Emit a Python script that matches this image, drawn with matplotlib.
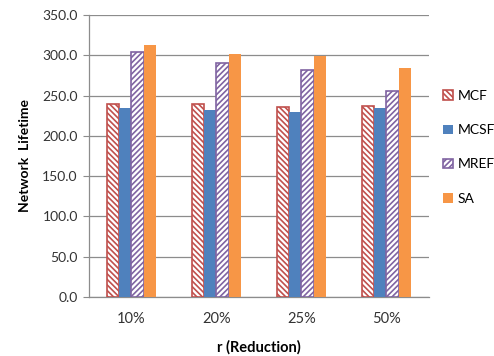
import numpy as np
import matplotlib
matplotlib.use("Agg")
import matplotlib.pyplot as plt

# network lifetime per reduction ratio
reduction = ["10%", "20%", "25%", "50%"]
mcf = [240.0, 240.0, 236.0, 237.5]
mcsf = [234.0, 232.0, 229.5, 235.0]
mref = [304.0, 290.0, 282.0, 255.0]
sa = [312.5, 301.5, 299.5, 284.5]

plt.rcParams['font.family'] = ['Lato', 'DejaVu Sans']
plt.rcParams['hatch.linewidth'] = 1.2

fig = plt.figure(figsize=(4.94, 3.56), dpi=100)
ax = fig.add_axes([0.180, 0.166, 0.688, 0.792])

x = np.arange(len(reduction))
w = 0.145
ax.bar(x - 1.5*w, mcf, w, facecolor='white', edgecolor='#C0504D', hatch='\\\\\\\\\\\\', linewidth=1.2, label='MCF', zorder=3)
ax.bar(x - 0.5*w, mcsf, w, color='#4F81BD', label='MCSF', zorder=3)
ax.bar(x + 0.5*w, mref, w, facecolor='white', edgecolor='#8064A2', hatch='//////', linewidth=1.2, label='MREF', zorder=3)
ax.bar(x + 1.5*w, sa, w, color='#F79646', label='SA', zorder=3)

ax.set_xlim(-0.5, 3.5)
ax.set_ylim(0, 350)
ax.set_yticks(np.arange(0, 351, 50))
ax.set_yticklabels(["%.1f" % v for v in np.arange(0, 351, 50)])
ax.set_xticks(x)
ax.set_xticklabels(reduction)

ax.yaxis.grid(True, color='#8c8c8c', linewidth=0.9, zorder=0)
ax.set_axisbelow(True)
for s in ['top', 'right']:
    ax.spines[s].set_visible(False)
ax.spines['left'].set_color('#8c8c8c')
ax.spines['bottom'].set_color('#8c8c8c')
ax.spines['left'].set_linewidth(0.9)
ax.spines['bottom'].set_linewidth(0.9)

ax.tick_params(axis='y', direction='out', length=4, color='#8c8c8c', labelsize=10, labelcolor='#333333', pad=4)
ax.tick_params(axis='x', length=0, labelsize=10.5, labelcolor='#333333', pad=11)

ax.set_xlabel('r (Reduction)', fontsize=10.5, fontweight='bold', labelpad=10)
ax.set_ylabel('Network  Lifetime', fontsize=10, fontweight='bold', labelpad=8)

fig.legend(loc='center left', bbox_to_anchor=(0.883, 0.586), frameon=False,
           fontsize=10, handlelength=0.7, handleheight=0.7, handletextpad=0.35,
           labelspacing=1.6, borderpad=0)

fig.savefig('out.png', dpi=100)
